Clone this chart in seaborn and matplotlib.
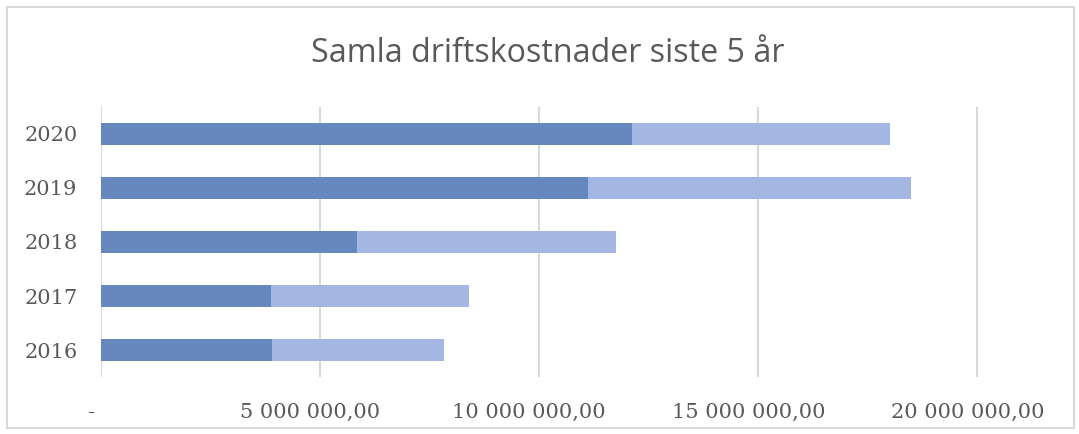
import matplotlib.pyplot as plt
import matplotlib.transforms as mtransforms
from matplotlib.patches import Rectangle
from matplotlib.ticker import FuncFormatter, MultipleLocator
import seaborn as sns
import pandas as pd

years = ['2020', '2019', '2018', '2017', '2016']
serie_1 = [12_120_000, 11_120_000, 5_840_000, 3_880_000, 3_900_000]
serie_2 = [5_890_000, 7_370_000, 5_920_000, 4_520_000, 3_930_000]
title = 'Samla driftskostnader siste 5 år'

df = pd.DataFrame({'year': years, 's1': serie_1, 's2': serie_2})
df['total'] = df['s1'] + df['s2']

sns.set_style('white')
text_col = '#595959'
grid_col = '#D9D9D9'

fig = plt.figure(figsize=(10.79, 4.34), dpi=100)
ax = fig.add_axes([0.0936, 0.1313, 0.987 - 0.0936, 0.7535 - 0.1313])

sns.barplot(data=df, x='total', y='year', color='#A4B7E2', width=0.41,
            saturation=1, ax=ax, order=years, linewidth=0)
sns.barplot(data=df, x='s1', y='year', color='#6787BF', width=0.41,
            saturation=1, ax=ax, order=years, linewidth=0)

ax.set_xlim(0, 22_000_000)
ax.set_ylim(4.5, -0.5)
ax.xaxis.set_major_locator(MultipleLocator(5_000_000))


def fmt(v, pos):
    if v == 0:
        return '-'
    return f'{v:,.2f}'.replace(',', ' ').replace('.', ',')


ax.xaxis.set_major_formatter(FuncFormatter(fmt))
ax.grid(axis='x', color=grid_col, linewidth=1.5)
ax.set_axisbelow(True)
for s in ax.spines.values():
    s.set_visible(False)
ax.set_xlabel('')
ax.set_ylabel('')
ax.tick_params(axis='both', length=0)
ax.tick_params(axis='x', pad=19)
ax.tick_params(axis='y', pad=17)
for lab in ax.get_xticklabels() + ax.get_yticklabels():
    lab.set_fontfamily('DejaVu Serif')
    lab.set_fontsize(15)
    lab.set_color(text_col)
offset = mtransforms.ScaledTranslation(-10 / 100, 0, fig.dpi_scale_trans)
for lab in ax.get_xticklabels():
    lab.set_transform(lab.get_transform() + offset)

fig.text(0.508, 0.877, title, ha='center', va='center', fontsize=23.2,
         color=text_col, family='Open Sans')

fig.patches.append(Rectangle((7 / 1079, 6 / 434), 1067 / 1079, 421 / 434,
                             transform=fig.transFigure, fill=False,
                             edgecolor=grid_col, linewidth=1.5))

fig.savefig('out.png', dpi=100)
